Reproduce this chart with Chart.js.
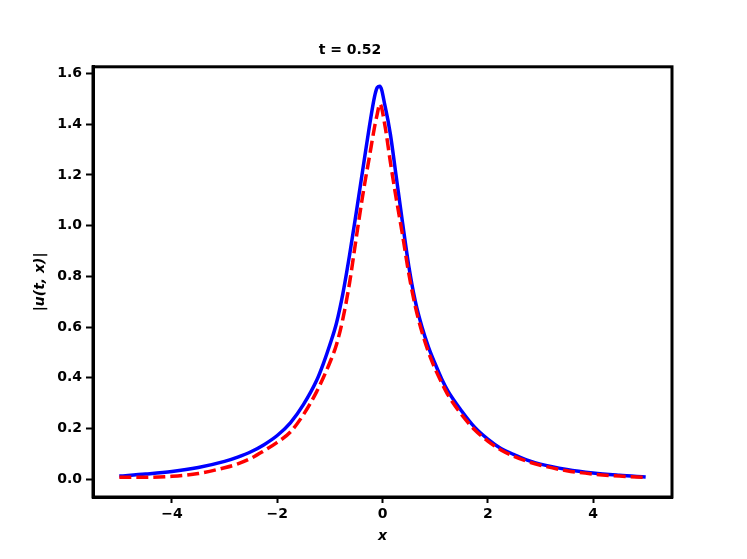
<!DOCTYPE html>
<html>
<head>
<meta charset="utf-8">
<script src="https://cdn.jsdelivr.net/npm/chart.js@4/dist/chart.umd.min.js"></script>
<style>
  html, body { margin: 0; padding: 0; background: #fff; }
  canvas { display: block; }
</style>
</head>
<body>
<canvas id="chart" width="747" height="559"></canvas>
<script>
// x grid and |u(t,x)|
const xs = [-5, -4.5, -4, -3.5, -3, -2.75, -2.5, -2.25, -2, -1.75, -1.5, -1.25, -1.125, -1, -0.875, -0.75, -0.625, -0.5, -0.375, -0.25, -0.15, -0.1, -0.05,
  0.05, 0.15, 0.25, 0.375, 0.5, 0.625, 0.75, 0.875, 1, 1.125, 1.25, 1.5, 1.75, 2, 2.25, 2.5, 2.75, 3, 3.5, 4, 4.5, 5];
const exact = [0.012, 0.020, 0.030, 0.046, 0.070, 0.087, 0.108, 0.136, 0.172, 0.222, 0.295, 0.39, 0.455, 0.53, 0.615, 0.735, 0.885, 1.05, 1.22, 1.39, 1.51, 1.545, 1.55,
  1.47, 1.36, 1.21, 1.02, 0.84, 0.70, 0.60, 0.52, 0.455, 0.395, 0.345, 0.27, 0.205, 0.158, 0.121, 0.097, 0.075, 0.059, 0.038, 0.024, 0.015, 0.008];
const predicted = [0.007, 0.007, 0.011, 0.022, 0.045, 0.060, 0.082, 0.112, 0.145, 0.186, 0.255, 0.345, 0.40, 0.46, 0.53, 0.635, 0.775, 0.95, 1.12, 1.27, 1.39, 1.44, 1.48,
  1.39, 1.25, 1.12, 0.97, 0.81, 0.68, 0.58, 0.50, 0.435, 0.38, 0.33, 0.255, 0.195, 0.150, 0.115, 0.090, 0.070, 0.055, 0.033, 0.020, 0.012, 0.007];
const xTicks = [-4, -2, 0, 2, 4];
const yTicks = [0, 0.2, 0.4, 0.6, 0.8, 1.0, 1.2, 1.4, 1.6];

const toPoints = (ys) => xs.map((x, i) => ({ x: x, y: ys[i] }));
const font = { family: "DejaVu Sans", size: 14, weight: "bold" };
const italic = { family: "DejaVu Sans", size: 14, weight: "bold", style: "italic" };

// top and right spines (bottom/left come from the axis borders)
const frame = {
  id: "frame",
  afterDraw(chart) {
    const { ctx, chartArea: a } = chart;
    ctx.save();
    ctx.strokeStyle = "#000";
    ctx.lineWidth = 3;
    ctx.strokeRect(a.left, a.top, a.right - a.left, a.bottom - a.top);
    ctx.restore();
  },
};

new Chart(document.getElementById("chart"), {
  type: "line",
  data: {
    datasets: [
      {
        label: "Exact",
        data: toPoints(exact),
        borderColor: "#0000ff",
        borderWidth: 3.5,
        pointRadius: 0,
        cubicInterpolationMode: "monotone",
        order: 1,
      },
      {
        label: "Prediction",
        data: toPoints(predicted),
        borderColor: "#ff0000",
        borderWidth: 3.5,
        borderDash: [12, 5],
        pointRadius: 0,
        cubicInterpolationMode: "monotone",
        order: 0,
      },
    ],
  },
  options: {
    responsive: false,
    devicePixelRatio: 1,
    animation: false,
    layout: { padding: { left: 28, right: 75, top: 0, bottom: 10 } },
    plugins: {
      legend: { display: false },
      tooltip: { enabled: false },
      title: {
        display: true,
        text: "t = 0.52",
        color: "#000",
        font: font,
        padding: { top: 42, bottom: 8 },
      },
    },
    scales: {
      x: {
        type: "linear",
        min: -5.5,
        max: 5.5,
        afterBuildTicks: (s) => { s.ticks = xTicks.map((v) => ({ value: v })); },
        afterFit: (s) => { s.height = 52; },
        ticks: { color: "#000", font: font, padding: 3, maxRotation: 0,
          callback: (v) => (v < 0 ? "\u2212" + Math.abs(v) : String(v)) },
        grid: { drawOnChartArea: false, drawTicks: true, tickLength: 6, tickWidth: 2, tickColor: "#000" },
        border: { display: true, color: "#000", width: 3 },
        title: { display: true, text: "x", color: "#000", font: italic, padding: { top: 0, bottom: 4 } },
      },
      y: {
        type: "linear",
        min: -0.0705,
        max: 1.6265,
        afterBuildTicks: (s) => { s.ticks = yTicks.map((v) => ({ value: v })); },
        afterFit: (s) => { s.width = 65; },
        ticks: { color: "#000", font: font, padding: 4, callback: (v) => v.toFixed(1) },
        grid: { drawOnChartArea: false, drawTicks: true, tickLength: 7, tickWidth: 2, tickColor: "#000" },
        border: { display: true, color: "#000", width: 3 },
        title: { display: true, text: "|u(t, x)|", color: "#000", font: italic, padding: { top: 4, bottom: 0 } },
      },
    },
  },
  plugins: [frame],
});
</script>
</body>
</html>
